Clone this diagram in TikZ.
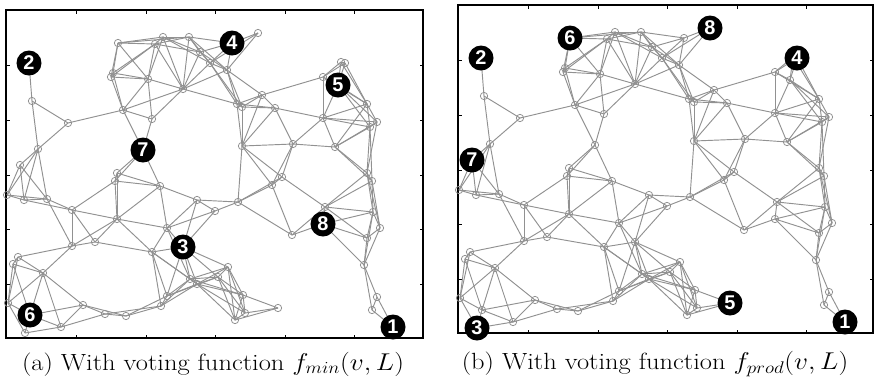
\documentclass[tikz,border=0pt]{standalone}
\usepackage{fontspec}
\newfontfamily\lblfont{Liberation Sans}
\definecolor{graphgrey}{RGB}{145,145,145}
\def\nodelist{393/327, 29/63, 183/247, 232/43, 338/85, 30/315, 143/150, 323/224,
25/333, 345/63, 278/308, 118/43, 20/165, 258/33,
32/101, 68/123, 38/149, 7/195, 24/200, 47/199, 72/210,
155/44, 163/37, 189/37, 113/73, 111/77, 148/79, 183/89, 123/110, 152/119,
210/63, 227/70, 200/52, 237/104, 242/107, 262/95, 275/108,
117/173, 115/181, 160/186,
323/77, 341/62, 367/104, 377/122, 370/127, 323/118, 242/146, 293/144, 335/147,
367/173, 372/181, 282/177, 272/185, 238/202, 215/211, 197/200, 167/228, 152/252,
117/219, 95/242, 72/246,
325/207, 373/212, 380/228, 367/238, 292/235, 364/265, 377/297, 372/310,
18/257, 13/264, 43/273, 8/303, 61/327, 83/305, 105/314, 126/316, 161/306, 167/296,
190/279, 197/284, 218/277, 228/267, 243/295, 245/313, 235/320}
\begin{document}
\begin{tikzpicture}[x=0.03cm,y=-0.03cm,
  edge/.style={draw=graphgrey,line width=0.8pt},
  vtx/.style={circle,draw=graphgrey,line width=0.65pt,inner sep=0pt,minimum size=0.22cm},
  lbl/.style={circle,fill=black,text=white,inner sep=0pt,minimum size=0.75cm,
    font=\lblfont\bfseries\fontsize{17}{17}\selectfont},
  frame/.style={draw=black,line width=0.9pt},
  tickmark/.style={draw=black,line width=0.6pt},
  captext/.style={font=\fontsize{20}{24}\selectfont,inner sep=0pt}]
\useasboundingbox (0,0) rectangle (875,379);
\fill[white] (0,0) rectangle (875,379);
% frames and ticks
\draw[frame] (6,10) rectangle (423,338);
\foreach \t in {76,146,215,285,354} {
  \draw[tickmark] (\t,10) -- ++(0,3.5);
  \draw[tickmark] (\t,338) -- ++(0,-3.5);
}
\foreach \t in {65,120,175,229,284} {
  \draw[tickmark] (6,\t) -- ++(3.5,0);
  \draw[tickmark] (423,\t) -- ++(-3.5,0);
}
\draw[frame] (458,5) rectangle (873,333);
\foreach \t in {528,598,667,737,806} {
  \draw[tickmark] (\t,5) -- ++(0,3.5);
  \draw[tickmark] (\t,333) -- ++(0,-3.5);
}
\foreach \t in {60,115,170,224,279} {
  \draw[tickmark] (458,\t) -- ++(3.5,0);
  \draw[tickmark] (873,\t) -- ++(-3.5,0);
}
% vertices
\foreach [count=\i] \px/\py in \nodelist {
  \node[vtx] (a\i) at (\px,\py) {};
  \node[vtx] (b\i) at ({\px+452},{\py-5}) {};
}
% edges (proximity graph)
\foreach [count=\i] \xa/\ya in \nodelist {
  \foreach [count=\j] \xb/\yb in \nodelist {
    \ifnum\j>\i\relax
      \pgfmathsetmacro\mydx{abs(\xa-\xb)}
      \pgfmathsetmacro\mydy{abs(\ya-\yb)}
      \ifdim\mydx pt<57pt\relax
        \ifdim\mydy pt<57pt\relax
          \pgfmathsetmacro\mydd{\mydx*\mydx+\mydy*\mydy}
          \ifdim\mydd pt<3249pt\relax
            \draw[edge] (a\i.center) -- (a\j.center);
            \draw[edge] (b\i.center) -- (b\j.center);
          \fi
        \fi
      \fi
    \fi
  }
}
\foreach \i/\j in {12/24,29/28,54/66,36/41,67/8,60/58} {
  \draw[edge] (a\i.center) -- (a\j.center);
  \draw[edge] (b\i.center) -- (b\j.center);
}
% labelled vertices, panel (a)
\node[lbl] (la1) at (a1) {1};
\node[lbl] (la2) at (a2) {2};
\node[lbl] (la3) at (a3) {3};
\node[lbl] (la4) at (a4) {4};
\node[lbl] (la5) at (a5) {5};
\node[lbl] (la6) at (a6) {6};
\node[lbl] (la7) at (a7) {7};
\node[lbl] (la8) at (a8) {8};
% labelled vertices, panel (b)
\node[lbl] (lb1) at (b1) {1};
\node[lbl] (lb2) at (b2) {2};
\node[lbl] (lb3) at (b9) {3};
\node[lbl] (lb4) at (b10) {4};
\node[lbl] (lb5) at (b11) {5};
\node[lbl] (lb6) at (b12) {6};
\node[lbl] (lb7) at (b13) {7};
\node[lbl] (lb8) at (b14) {8};
% captions
\node[captext] (capa) at (213,364) {\scalebox{1.13}[1]{(a) With voting function $f_{min}(v,L)$}};
\node[captext] (capb) at (655,364) {\scalebox{1.13}[1]{(b) With voting function $f_{prod}(v,L)$}};
\end{tikzpicture}
\end{document}
